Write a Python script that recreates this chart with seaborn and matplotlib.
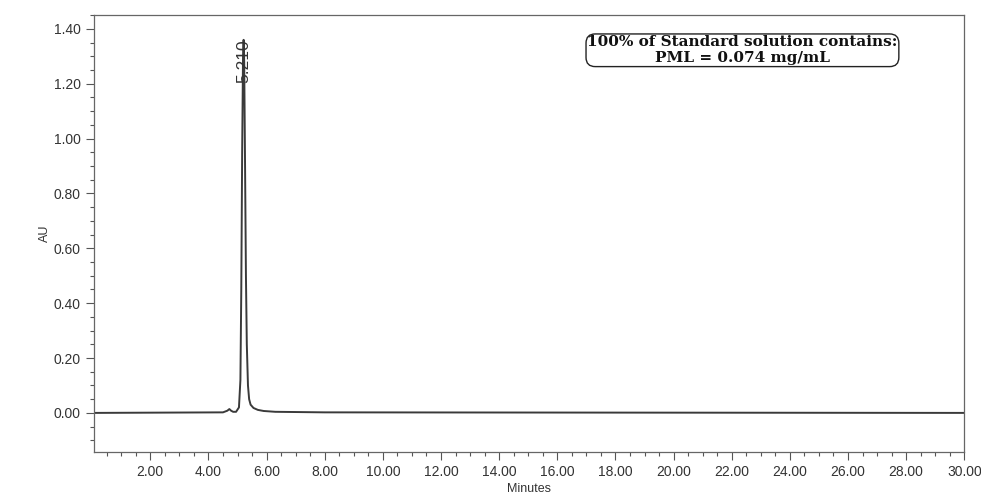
import matplotlib
matplotlib.use("Agg")
import matplotlib.pyplot as plt
import seaborn as sns
import pandas as pd
from matplotlib.ticker import MultipleLocator

# Chromatogram points (minutes, AU)
minutes = [0.07, 4.50, 4.65, 4.72, 4.78, 4.85, 4.95, 5.05, 5.10, 5.13, 5.16,
           5.19, 5.21, 5.23, 5.26, 5.29, 5.32, 5.36, 5.40, 5.45, 5.55, 5.70,
           5.90, 6.30, 8.00, 30.00]
au = [0.0, 0.002, 0.008, 0.014, 0.008, 0.004, 0.004, 0.02, 0.12, 0.45, 0.95,
      1.30, 1.36, 1.28, 0.90, 0.50, 0.25, 0.10, 0.05, 0.03, 0.018, 0.011,
      0.007, 0.004, 0.002, 0.0]

peak_rt = 5.210
peak_label = "5.210"
note = "100% of Standard solution contains:\nPML = 0.074 mg/mL"

df = pd.DataFrame({"Minutes": minutes, "AU": au})

sns.set_style("white")
plt.rcParams["font.family"] = ["Liberation Sans", "DejaVu Sans"]

fig, ax = plt.subplots(figsize=(9.81, 4.96), dpi=100)
fig.subplots_adjust(left=0.096, right=0.983, top=0.970, bottom=0.089)

sns.lineplot(data=df, x="Minutes", y="AU", ax=ax, color="#3a3a3a",
             linewidth=1.4, estimator=None)

ax.set_xlim(0.07, 30.0)
ax.set_ylim(-0.142, 1.451)

ax.xaxis.set_major_locator(MultipleLocator(2))
ax.xaxis.set_minor_locator(MultipleLocator(0.5))
ax.yaxis.set_major_locator(MultipleLocator(0.2))
ax.yaxis.set_minor_locator(MultipleLocator(0.05))
ax.xaxis.set_major_formatter(lambda v, p: "" if v < 1 else f"{v:.2f}")
ax.yaxis.set_major_formatter(lambda v, p: f"{v:.2f}")

ax.tick_params(axis="both", which="major", direction="out", length=6,
               width=0.8, color="#555555", labelsize=10, labelcolor="#333333")
ax.tick_params(axis="both", which="minor", direction="out", length=3,
               width=0.8, color="#555555")
ax.tick_params(axis="x", which="both", bottom=True)
ax.tick_params(axis="y", which="both", left=True)

for s in ax.spines.values():
    s.set_color("#666666")
    s.set_linewidth(0.9)

ax.set_xlabel("Minutes", fontsize=9, color="#333333", labelpad=3)
ax.set_ylabel("AU", fontsize=9, color="#333333", labelpad=2)

# retention time label on the peak
ax.text(peak_rt, 1.36, peak_label, rotation=90, ha="center", va="top",
        fontsize=12.5, color="#333333")

ax.text(0.745, 0.919, note, transform=ax.transAxes, ha="center", va="center",
        multialignment="center", fontsize=11, fontweight="bold",
        family="DejaVu Serif", color="#111111", linespacing=1.2,
        bbox=dict(boxstyle="round,pad=0.08,rounding_size=0.6",
                  facecolor="white", edgecolor="#222222", linewidth=1.0))

fig.savefig("out.png", dpi=100)
